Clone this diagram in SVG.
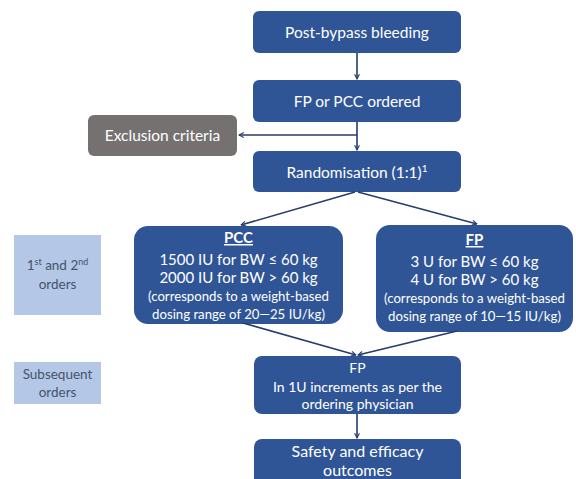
<svg xmlns="http://www.w3.org/2000/svg" width="576" height="479" viewBox="0 0 576 479">
<defs>
<marker id="arr" viewBox="0 0 10 10" refX="9" refY="5" markerWidth="6" markerHeight="6" orient="auto" markerUnits="userSpaceOnUse">
<path d="M1,1 L9,5 L1,9" fill="none" stroke="#263c6b" stroke-width="1.8"/>
</marker>
<style>
.b{fill:#2f5597;}
.g{fill:#767171;}
.l{fill:#b4c7e7;}
.t{font-family:Lato,"Open Sans","Liberation Sans",sans-serif;fill:#ffffff;text-anchor:middle;}
.d{font-family:Lato,"Open Sans","Liberation Sans",sans-serif;fill:#44546a;text-anchor:middle;font-size:13.5px;}
.c line,.c path{stroke:#263c6b;stroke-width:1.6;fill:none;}
</style>
</defs>
<rect width="576" height="479" fill="#ffffff"/>
<g id="post-bypass">
<rect class="b" x="253" y="11" width="208" height="42" rx="6"/>
<text class="t" x="357" y="38" font-size="15.5">Post-bypass bleeding</text>
</g>
<g id="ordered">
<rect class="b" x="253" y="80" width="208" height="42" rx="6"/>
<text class="t" x="357" y="107" font-size="15.5">FP or PCC ordered</text>
</g>
<g id="exclusion">
<rect class="g" x="88" y="115" width="149" height="41" rx="6"/>
<text class="t" x="162.5" y="141" font-size="15.5">Exclusion criteria</text>
</g>
<g id="randomisation">
<rect class="b" x="253" y="151" width="208" height="41" rx="6"/>
<text class="t" x="357" y="178" font-size="15.5">Randomisation (1:1)<tspan font-size="10" dy="-6">1</tspan></text>
</g>
<g id="pcc">
<rect class="b" x="134" y="226" width="209" height="98" rx="14"/>
<text class="t" x="238.5" y="243" font-size="15" font-weight="bold" text-decoration="underline">PCC</text>
<text class="t" x="238.5" y="265" font-size="15">1500 IU for BW ≤ 60 kg</text>
<text class="t" x="238.5" y="283" font-size="15">2000 IU for BW &gt; 60 kg</text>
<text class="t" x="238.5" y="301" font-size="13.2">(corresponds to a weight-based</text>
<text class="t" x="238.5" y="319" font-size="13.2">dosing range of 20—25 IU/kg)</text>
</g>
<g id="fp">
<rect class="b" x="376" y="225" width="197" height="107" rx="14"/>
<text class="t" x="474.5" y="245" font-size="15" font-weight="bold" text-decoration="underline">FP</text>
<text class="t" x="474.5" y="267" font-size="15">3 U for BW ≤ 60 kg</text>
<text class="t" x="474.5" y="285" font-size="15">4 U for BW &gt; 60 kg</text>
<text class="t" x="474.5" y="303" font-size="13.2">(corresponds to a weight-based</text>
<text class="t" x="474.5" y="321" font-size="13.2">dosing range of 10—15 IU/kg)</text>
</g>
<g id="fp-subsequent">
<rect class="b" x="254" y="356" width="207" height="58" rx="8"/>
<text class="t" x="357.5" y="373" font-size="14">FP</text>
<text class="t" x="357.5" y="392" font-size="14">In 1U increments as per the</text>
<text class="t" x="357.5" y="409" font-size="14">ordering physician</text>
</g>
<g id="outcomes">
<rect class="b" x="254" y="439" width="207" height="50" rx="8"/>
<text class="t" x="357.5" y="457" font-size="16">Safety and efficacy</text>
<text class="t" x="357.5" y="476" font-size="16">outcomes</text>
</g>
<g id="label-first">
<rect class="l" x="14" y="235" width="87" height="80"/>
<text class="d" x="57.5" y="270">1<tspan font-size="9" dy="-5">st</tspan><tspan dy="5"> and 2</tspan><tspan font-size="9" dy="-5">nd</tspan></text>
<text class="d" x="57.5" y="289">orders</text>
</g>
<g id="label-subsequent">
<rect class="l" x="14" y="362" width="87" height="42"/>
<text class="d" x="57.5" y="379">Subsequent</text>
<text class="d" x="57.5" y="397">orders</text>
</g>
<g id="connectors" class="c">
<line x1="357" y1="53" x2="357" y2="79" marker-end="url(#arr)"/>
<line x1="357" y1="122" x2="357" y2="150" marker-end="url(#arr)"/>
<line x1="357" y1="135" x2="239" y2="135" marker-end="url(#arr)"/>
<line x1="355" y1="192" x2="241" y2="225" marker-end="url(#arr)"/>
<line x1="358" y1="192" x2="477" y2="224" marker-end="url(#arr)"/>
<line x1="243" y1="323" x2="356" y2="355" marker-end="url(#arr)"/>
<line x1="457" y1="331" x2="358" y2="355" marker-end="url(#arr)"/>
<line x1="357" y1="414" x2="357" y2="438" marker-end="url(#arr)"/>
</g>
</svg>
